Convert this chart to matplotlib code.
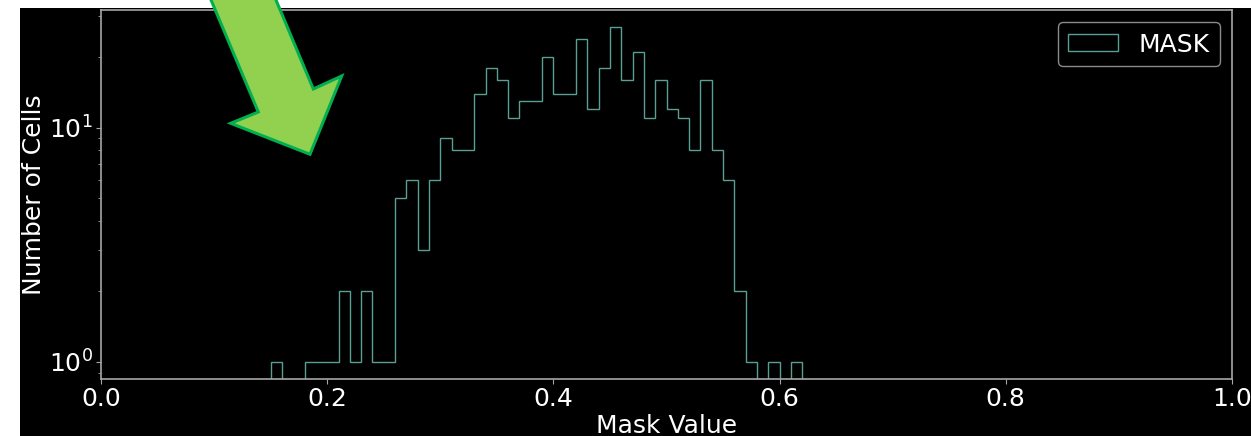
import numpy as np
import matplotlib
matplotlib.use("Agg")
import matplotlib.pyplot as plt
from matplotlib.patches import Polygon, Rectangle

# mask value histogram, bins of 0.01 starting at 0.15
bin_start = 0.15
bin_width = 0.01
counts = [1, 0, 0, 1, 1, 1, 2, 1, 2, 1,
          1, 5, 6, 3, 6, 9, 8, 8, 14, 18,
          16, 11, 13, 13, 20, 14, 14, 24, 12, 18,
          27, 16, 21, 11, 16, 12, 11, 8, 16, 8,
          6, 2, 1, 0, 1, 0, 1]
series_label = "MASK"
x_label = "Mask Value"
y_label = "Number of Cells"
x_ticks = [0.0, 0.2, 0.4, 0.6, 0.8, 1.0]

line_color = "#5a9f93"
spine_color = "#a6a6a6"
fs = 18

W, H = 1251, 436
fig = plt.figure(figsize=(W / 100, H / 100), dpi=100, facecolor="white")

# black panel (white margin left and top)
fig.patches.append(Rectangle((20 / W, 0), 1 - 20 / W, (H - 8) / H,
                             transform=fig.transFigure, facecolor="black",
                             edgecolor="none", zorder=-10))

ax = fig.add_axes([101 / W, 57.3 / H, 1131 / W, 368.7 / H])
ax.set_facecolor("black")

edges = bin_start + bin_width * np.arange(len(counts) + 1)
centers = edges[:-1] + bin_width / 2
ax.hist(centers, bins=edges, weights=counts, histtype="step", log=True,
        color=line_color, linewidth=1.0, label=series_label)

L = np.log10(max(counts))
ax.set_ylim(10 ** (-0.05 * L), 10 ** (1.05 * L))
ax.set_xlim(0, 1)
ax.set_xticks(x_ticks)

for s in ax.spines.values():
    s.set_color(spine_color)
    s.set_linewidth(1.2)
ax.tick_params(axis="both", which="both", colors=spine_color,
               labelcolor="white", labelsize=fs)
ax.tick_params(axis="both", which="major", length=3.5, pad=2.5)
ax.tick_params(axis="y", which="minor", length=2)

ax.set_xlabel(x_label, color="white", fontsize=fs, labelpad=2)
ax.set_ylabel(y_label, color="white", fontsize=fs)
ax.yaxis.set_label_coords(-0.049, 0.5)

leg = ax.legend(loc="upper right", fontsize=fs, facecolor="black",
                edgecolor="#8a8a8a", framealpha=1.0)
for t in leg.get_texts():
    t.set_color("white")

# green block arrow pointing at the low tail
arrow_px = [(202.6, -20), (258.3, 112), (230.7, 123.3), (310.0, 154.3),
            (341.7, 76.0), (313.3, 89.0), (267.6, -20)]
arrow_fig = [(x / W, 1 - y / H) for x, y in arrow_px]
fig.patches.append(Polygon(arrow_fig, closed=True, transform=fig.transFigure,
                           facecolor="#92d050", edgecolor="#00b050",
                           linewidth=2.2, joinstyle="miter", zorder=10))

fig.savefig("out.png", dpi=100, facecolor=fig.get_facecolor())
